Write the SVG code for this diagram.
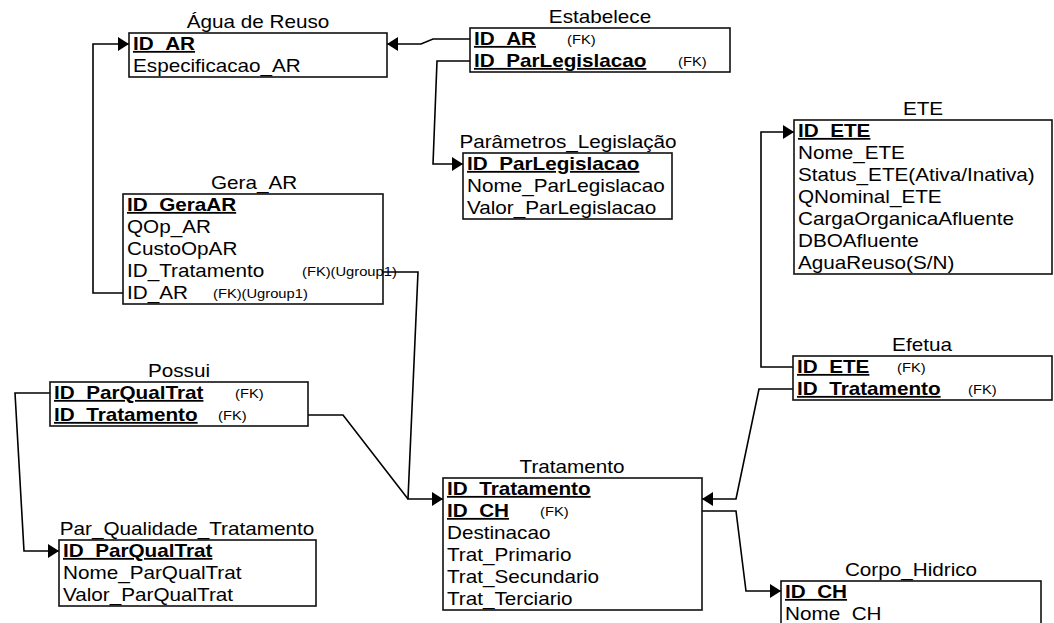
<svg xmlns="http://www.w3.org/2000/svg" width="1054" height="623" viewBox="0 0 1054 623">
<style>
text{font-family:"Liberation Sans",Arial,sans-serif;fill:#000}
.t{font-size:18px;text-anchor:middle}
.a{font-size:18px}
.k{font-size:18px;font-weight:bold;text-decoration:underline}
.f{font-size:12.8px}
.box{fill:#fff;stroke:#111;stroke-width:1.6}
.c{fill:none;stroke:#000;stroke-width:1.6}
</style>
<defs>
<marker id="ah" markerUnits="userSpaceOnUse" markerWidth="12" markerHeight="14" refX="11" refY="7" orient="auto"><path d="M0,0 L11,7 L0,14 z" fill="#000"/></marker>
</defs>
<rect width="1054" height="623" fill="#fff"/>
<g id="connectors">
<path class="c" d="M123,293 H93 V44 H129" marker-end="url(#ah)"/>
<path class="c" d="M470,39 H433 L421,44 H387" marker-end="url(#ah)"/>
<path class="c" d="M470,61 H437 L433,164 H463" marker-end="url(#ah)"/>
<path class="c" d="M383,272 H418 L408,499 H443" marker-end="url(#ah)"/>
<path class="c" d="M308,415 H343 L408,499"/>
<path class="c" d="M50,393 H15 L24,551 H59" marker-end="url(#ah)"/>
<path class="c" d="M793,367 H761 V132 H794" marker-end="url(#ah)"/>
<path class="c" d="M793,389 H759 L736,499 H702" marker-end="url(#ah)"/>
<path class="c" d="M702,511 H736 L746,591 H781" marker-end="url(#ah)"/>
</g>
<g id="agua_reuso">
<rect class="box" x="129" y="33" width="258" height="44"/>
<text class="t" transform="translate(258,28) scale(1.15,1)">Água de Reuso</text>
<text class="k" transform="translate(133,50) scale(1.15,1)">ID_AR</text>
<text class="a" transform="translate(133,72) scale(1.15,1)">Especificacao_AR</text>
</g>
<g id="estabelece">
<rect class="box" x="470" y="28" width="260" height="44"/>
<text class="t" transform="translate(600,23) scale(1.15,1)">Estabelece</text>
<text class="k" transform="translate(474,45) scale(1.15,1)">ID_AR</text>
<text class="f" transform="translate(567,44) scale(1.15,1)">(FK)</text>
<text class="k" transform="translate(474,67) scale(1.15,1)">ID_ParLegislacao</text>
<text class="f" transform="translate(678,66) scale(1.15,1)">(FK)</text>
</g>
<g id="parametros_legislacao">
<rect class="box" x="463" y="153" width="209" height="66"/>
<text class="t" transform="translate(568,148) scale(1.15,1)">Parâmetros_Legislação</text>
<text class="k" transform="translate(467,170) scale(1.15,1)">ID_ParLegislacao</text>
<text class="a" transform="translate(467,192) scale(1.15,1)">Nome_ParLegislacao</text>
<text class="a" transform="translate(467,214) scale(1.15,1)">Valor_ParLegislacao</text>
</g>
<g id="gera_ar">
<rect class="box" x="123" y="194" width="260" height="110"/>
<text class="t" transform="translate(254,189) scale(1.15,1)">Gera_AR</text>
<text class="k" transform="translate(127,211) scale(1.15,1)">ID_GeraAR</text>
<text class="a" transform="translate(127,233) scale(1.15,1)">QOp_AR</text>
<text class="a" transform="translate(127,255) scale(1.15,1)">CustoOpAR</text>
<text class="a" transform="translate(127,277) scale(1.15,1)">ID_Tratamento</text>
<text class="f" transform="translate(302,276) scale(1.15,1)">(FK)(Ugroup1)</text>
<text class="a" transform="translate(127,299) scale(1.15,1)">ID_AR</text>
<text class="f" transform="translate(213,298) scale(1.15,1)">(FK)(Ugroup1)</text>
</g>
<g id="ete">
<rect class="box" x="794" y="120" width="258" height="154"/>
<text class="t" transform="translate(923,115) scale(1.15,1)">ETE</text>
<text class="k" transform="translate(798,137) scale(1.15,1)">ID_ETE</text>
<text class="a" transform="translate(798,159) scale(1.15,1)">Nome_ETE</text>
<text class="a" transform="translate(798,181) scale(1.15,1)">Status_ETE(Ativa/Inativa)</text>
<text class="a" transform="translate(798,203) scale(1.15,1)">QNominal_ETE</text>
<text class="a" transform="translate(798,225) scale(1.15,1)">CargaOrganicaAfluente</text>
<text class="a" transform="translate(798,247) scale(1.15,1)">DBOAfluente</text>
<text class="a" transform="translate(798,269) scale(1.15,1)">AguaReuso(S/N)</text>
</g>
<g id="efetua">
<rect class="box" x="793" y="356" width="259" height="44"/>
<text class="t" transform="translate(922,351) scale(1.15,1)">Efetua</text>
<text class="k" transform="translate(797,373) scale(1.15,1)">ID_ETE</text>
<text class="f" transform="translate(897,372) scale(1.15,1)">(FK)</text>
<text class="k" transform="translate(797,395) scale(1.15,1)">ID_Tratamento</text>
<text class="f" transform="translate(968,394) scale(1.15,1)">(FK)</text>
</g>
<g id="possui">
<rect class="box" x="50" y="382" width="258" height="44"/>
<text class="t" transform="translate(179,377) scale(1.15,1)">Possui</text>
<text class="k" transform="translate(54,399) scale(1.15,1)">ID_ParQualTrat</text>
<text class="f" transform="translate(235,398) scale(1.15,1)">(FK)</text>
<text class="k" transform="translate(54,421) scale(1.15,1)">ID_Tratamento</text>
<text class="f" transform="translate(218,420) scale(1.15,1)">(FK)</text>
</g>
<g id="par_qualidade_tratamento">
<rect class="box" x="59" y="540" width="257" height="66"/>
<text class="t" transform="translate(187,535) scale(1.15,1)">Par_Qualidade_Tratamento</text>
<text class="k" transform="translate(63,557) scale(1.15,1)">ID_ParQualTrat</text>
<text class="a" transform="translate(63,579) scale(1.15,1)">Nome_ParQualTrat</text>
<text class="a" transform="translate(63,601) scale(1.15,1)">Valor_ParQualTrat</text>
</g>
<g id="tratamento">
<rect class="box" x="443" y="478" width="259" height="132"/>
<text class="t" transform="translate(572,473) scale(1.15,1)">Tratamento</text>
<text class="k" transform="translate(447,495) scale(1.15,1)">ID_Tratamento</text>
<text class="k" transform="translate(447,517) scale(1.15,1)">ID_CH</text>
<text class="f" transform="translate(540,516) scale(1.15,1)">(FK)</text>
<text class="a" transform="translate(447,539) scale(1.15,1)">Destinacao</text>
<text class="a" transform="translate(447,561) scale(1.15,1)">Trat_Primario</text>
<text class="a" transform="translate(447,583) scale(1.15,1)">Trat_Secundario</text>
<text class="a" transform="translate(447,605) scale(1.15,1)">Trat_Terciario</text>
</g>
<g id="corpo_hidrico">
<rect class="box" x="781" y="581" width="260" height="70"/>
<text class="t" transform="translate(911,576) scale(1.15,1)">Corpo_Hidrico</text>
<text class="k" transform="translate(785,598) scale(1.15,1)">ID_CH</text>
<text class="a" transform="translate(785,620) scale(1.15,1)">Nome_CH</text>
</g>
</svg>
